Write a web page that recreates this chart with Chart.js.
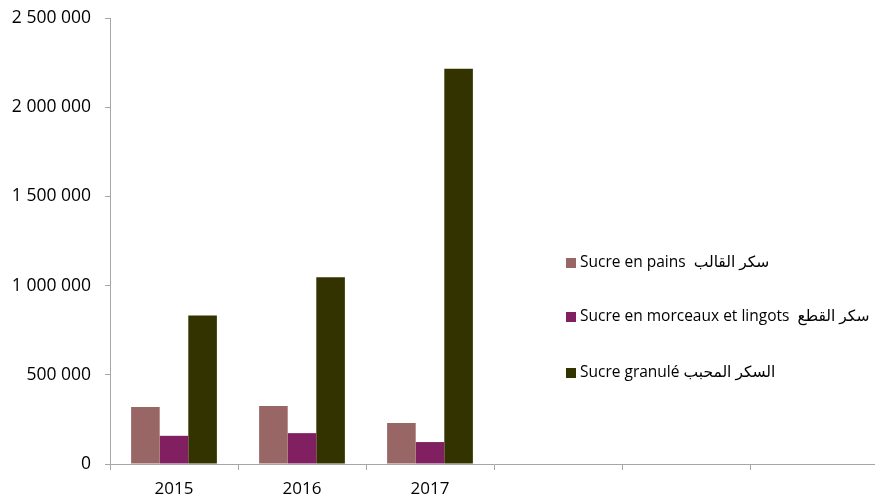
<!DOCTYPE html>
<html>
<head>
<meta charset="utf-8">
<script src="https://cdn.jsdelivr.net/npm/chart.js@4/dist/chart.umd.min.js"></script>
<style>
  html, body { margin: 0; padding: 0; background: #fff; overflow: hidden; }
  #wrap { width: 880px; height: 502px; }
</style>
</head>
<body>
<div id="wrap"><canvas id="c" width="880" height="502"></canvas></div>
<script>
const categories = ['2015', '2016', '2017', '', '', ''];
const seriesNames = [
  'Sucre en pains  سكر القالب',
  'Sucre en morceaux et lingots  سكر القطع',
  'Sucre granulé السكر المحبب'
];
const sucrePains = [319000, 325000, 230000];
const sucreMorceaux = [158000, 173000, 123000];
const sucreGranule = [832000, 1047000, 2216000];
const yTickValues = [0, 500000, 1000000, 1500000, 2000000, 2500000];
const seriesColors = ['#996666', '#802060', '#333300'];

const FONT = "'Open Sans', 'DejaVu Sans', sans-serif";
const AXIS = '#a6a6a6';

function fmt(v) {
  return String(v).replace(/\B(?=(\d{3})+(?!\d))/g, ' ');
}

const legendPlugin = {
  id: 'sideLegend',
  afterDraw(chart) {
    const ctx = chart.ctx;
    const x0 = 566, ys = [263, 317, 373];
    ctx.save();
    ctx.font = '15.5px ' + FONT;
    ctx.textBaseline = 'middle';
    ctx.textAlign = 'left';
    chart.data.datasets.forEach((ds, i) => {
      ctx.fillStyle = ds.backgroundColor;
      ctx.fillRect(x0, ys[i] - 5, 10, 10);
      ctx.fillStyle = '#000';
      ctx.fillText(ds.label, x0 + 14, ys[i]);
    });
    ctx.restore();
  }
};

new Chart(document.getElementById('c'), {
  type: 'bar',
  data: {
    labels: categories,
    datasets: [
      { label: seriesNames[0], data: sucrePains, backgroundColor: seriesColors[0] },
      { label: seriesNames[1], data: sucreMorceaux, backgroundColor: seriesColors[1] },
      { label: seriesNames[2], data: sucreGranule, backgroundColor: seriesColors[2] }
    ]
  },
  options: {
    responsive: false,
    animation: false,
    layout: { padding: { top: 18, right: 2, left: 0, bottom: 0 } },
    datasets: { bar: { categoryPercentage: 0.67, barPercentage: 1.0 } },
    plugins: { legend: { display: false }, tooltip: { enabled: false } },
    scales: {
      x: {
        offset: true,
        grid: { offset: true, drawOnChartArea: false, color: AXIS, tickLength: 6, lineWidth: 1 },
        border: { display: true, color: AXIS, width: 1 },
        ticks: { color: '#000', font: { family: FONT, size: 17 }, padding: 9, maxRotation: 0, autoSkip: false },
        afterFit(s) { s.height = 38; s.paddingLeft = 0; s.paddingRight = 0; }
      },
      y: {
        min: 0,
        max: 2500000,
        afterBuildTicks(s) { s.ticks = yTickValues.map(v => ({ value: v })); },
        grid: { drawOnChartArea: false, color: AXIS, tickLength: 5, lineWidth: 1 },
        border: { display: true, color: AXIS, width: 1 },
        ticks: { color: '#000', font: { family: FONT, size: 17.5 }, padding: 14, callback: v => fmt(v) },
        afterFit(s) { s.width = 110; s.paddingTop = 0; s.paddingBottom = 0; }
      }
    }
  },
  plugins: [legendPlugin]
});
</script>
</body>
</html>
